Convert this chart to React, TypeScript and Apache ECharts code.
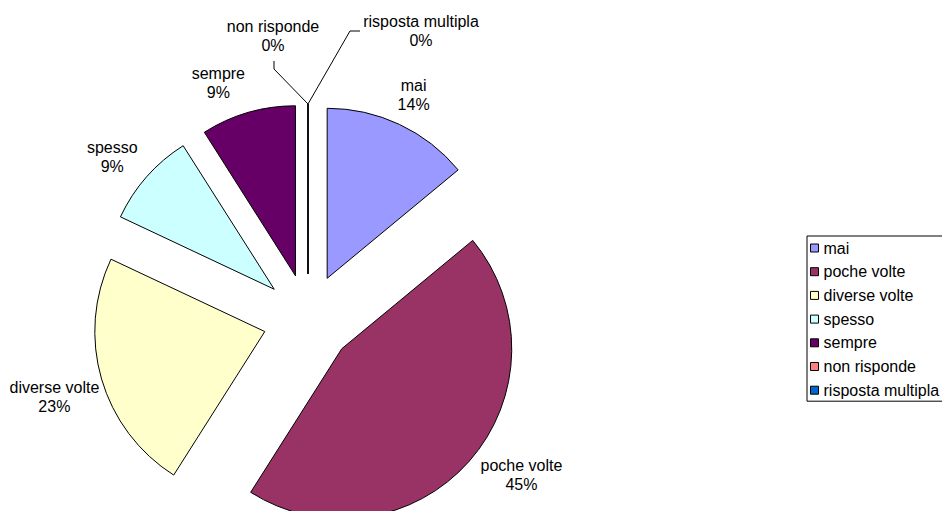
import React, { useEffect, useRef } from "react";
import * as echarts from "echarts";

const categories = ["mai", "poche volte", "diverse volte", "spesso", "sempre", "non risponde", "risposta multipla"];
const percentages = [14, 45, 23, 9, 9, 0, 0];
const colors = ["#9999FF", "#993366", "#FFFFCC", "#CCFFFF", "#660066", "#FF8080", "#0066CC"];

const CX = 308;
const CY = 319;
const R = 170;
const OFFSET = 45;
const GAP = 9;
const FONT = "'Liberation Sans', Arial, Helvetica, sans-serif";

// small label nudges (layout only), per slice
const labelNudges: number[][] = [[0, 0], [13, -21], [8, 2], [-4, 7], [-20, 4], [0, 0], [0, 0]];

// layout of the labels of zero-valued slices (relative to slice tip)
const zeroLabelLayout: Record<number, { lx: number; ly: number; pts: number[][] }> = {
  5: { lx: -35, ly: -68, pts: [[-34, -35], [-34, -43]] },
  6: { lx: 113, ly: -73, pts: [[42, -73], [52, -73]] },
};

export default function App() {
  const ref = useRef<HTMLDivElement>(null);
  useEffect(() => {
    const chart = echarts.init(ref.current!, null, { renderer: "svg" });
    const total = percentages.reduce((a, b) => a + b, 0);
    const mids: number[] = [];
    let acc = 0;
    percentages.forEach((v) => {
      mids.push(((acc + v / 2) / total) * 2 * Math.PI);
      acc += v;
    });

    const labelLayout = (p: any) => {
      const i = p.dataIndex;
      const a = mids[i];
      const dx = Math.sin(a);
      const dy = -Math.cos(a);
      const ex = CX + OFFSET * dx;
      const ey = CY + OFFSET * dy;
      const z = zeroLabelLayout[i];
      if (percentages[i] === 0 && z) {
        const px = ex + R * dx;
        const py = ey + R * dy;
        return {
          x: px + z.lx,
          y: py + z.ly,
          align: "center",
          verticalAlign: "middle",
          labelLinePoints: [[px, py], [px + z.pts[0][0], py + z.pts[0][1]], [px + z.pts[1][0], py + z.pts[1][1]]],
        };
      }
      const w = p.labelRect.width / 2;
      const h = p.labelRect.height / 2;
      const dist = R + GAP + w * Math.abs(dx) + h * Math.abs(dy);
      const n = labelNudges[i] || [0, 0];
      return { x: ex + dist * dx + n[0], y: ey + dist * dy + n[1], align: "center", verticalAlign: "middle" };
    };

    const sliceData = categories.map((name, i) => ({
      name,
      value: percentages[i],
      selected: true,
      itemStyle: { color: colors[i] },
    }));

    const labelData = categories.map((name, i) => ({
      name,
      value: percentages[i],
      labelLine: { show: percentages[i] === 0 },
    }));

    chart.setOption({
      animation: false,
      backgroundColor: "#fff",
      color: colors,
      legend: {
        orient: "vertical",
        left: 807,
        top: 236,
        padding: [4, 40, 3, 3],
        itemWidth: 8,
        itemHeight: 8,
        itemGap: 7.7,
        icon: "rect",
        borderColor: "#000",
        borderWidth: 1,
        borderRadius: 0,
        selectedMode: false,
        itemStyle: { borderColor: "#000", borderWidth: 1 },
        textStyle: { fontSize: 16, color: "#000", fontFamily: FONT, lineHeight: 16 },
        data: categories,
      },
      series: [
        {
          type: "pie",
          name: "slices",
          center: [CX, CY],
          radius: R,
          startAngle: 90,
          clockwise: true,
          selectedMode: "multiple",
          selectedOffset: OFFSET,
          itemStyle: { borderColor: "#000", borderWidth: 1 },
          select: { itemStyle: { borderColor: "#000", borderWidth: 1 } },
          emphasis: { disabled: true, scale: false },
          label: { show: false },
          labelLine: { show: false },
          data: sliceData,
        },
        {
          type: "pie",
          name: "labels",
          center: [CX, CY],
          radius: R,
          startAngle: 90,
          clockwise: true,
          silent: true,
          z: 3,
          avoidLabelOverlap: false,
          itemStyle: { color: "rgba(0,0,0,0)", borderWidth: 0 },
          emphasis: { disabled: true, scale: false },
          label: {
            show: true,
            position: "outside",
            color: "#000",
            fontSize: 16,
            lineHeight: 19,
            fontFamily: FONT,
            align: "center",
            formatter: (p: any) => `${p.name}\n${Math.round(p.percent)}%`,
          },
          labelLine: { show: false, lineStyle: { color: "#000", width: 1 } },
          labelLayout,
          data: labelData,
        },
      ],
    });
    return () => chart.dispose();
  }, []);
  return <div ref={ref} style={{ position: "absolute", left: 0, top: 0, width: 942, height: 511 }} />;
}
